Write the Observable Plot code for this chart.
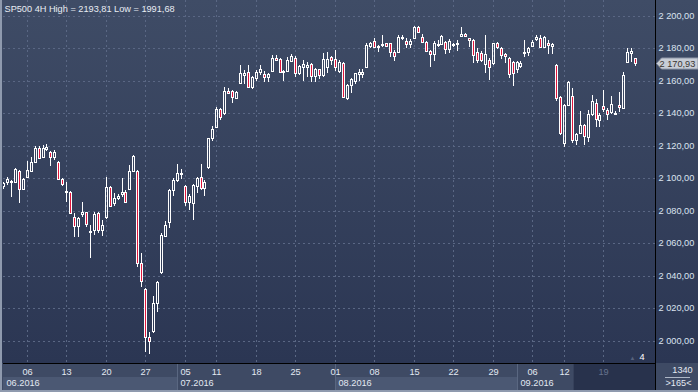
<!DOCTYPE html>
<html><head><meta charset="utf-8">
<script src="https://cdn.jsdelivr.net/npm/d3@7"></script>
<script src="https://cdn.jsdelivr.net/npm/@observablehq/plot@0.6"></script>
<style>
html,body{margin:0;padding:0;background:#2b3653;}
#chart{position:relative;width:698px;height:392px;overflow:hidden;
 background:linear-gradient(to bottom,#3f4c66 0px,#2b3653 363px,#3e4a64 363px,#3e4a64 392px);
 font-family:"Liberation Sans",Arial,sans-serif;}
#chart svg{display:block;}
#chart::before{content:"";position:absolute;left:0;top:0;width:2px;height:392px;background:#8f9aae;}
#chart::after{content:"";position:absolute;left:0;bottom:0;width:698px;height:2px;background:#8f9aae;}
</style></head><body><div id="chart"></div>
<script>
// ---- data: SP500 4H candles (2 bars per trading day, 01.06.2016 .. 23.09.2016) ----
const open = [
2095.0,2097.5,2098.6,2097.5,2104.3,2093.6,2101.0,2104.6,2110.2,2118.4,
2112.9,2117.8,2116.0,2113.0,2109.8,2099.3,2091.3,2091.7,2076.3,2070.8,
2077.8,2079.0,2067.6,2068.1,2078.4,2068.1,2076.0,2094.4,2085.0,2087.7,
2090.0,2091.5,2093.2,2104.6,2104.5,2047.6,2031.6,2002.0,2006.2,2023.0,
2042.5,2064.5,2073.3,2092.8,2099.0,2102.6,2095.2,2085.6,2084.6,2095.4,
2100.6,2093.8,2107.1,2124.6,2131.7,2142.4,2140.0,2153.9,2153.9,2149.6,
2158.4,2163.8,2165.2,2156.4,2161.5,2165.6,2164.1,2162.1,2166.2,2173.8,
2173.2,2165.2,2166.2,2172.2,2173.8,2164.6,2168.3,2168.3,2170.3,2162.9,
2167.1,2163.5,2168.6,2174.5,2173.2,2166.2,2170.8,2149.2,2157.4,2160.0,
2164.4,2164.4,2168.7,2181.4,2184.7,2181.5,2182.1,2183.0,2183.0,2177.5,
2177.9,2186.1,2184.5,2182.4,2186.1,2193.3,2186.8,2184.0,2178.3,2176.3,
2182.1,2182.6,2184.0,2179.4,2182.1,2182.6,2187.8,2188.8,2186.1,2185.1,
2178.0,2177.0,2170.5,2172.8,2170.8,2183.0,2180.0,2176.3,2173.8,2171.7,
2167.1,2169.0,2177.0,2177.5,2181.6,2185.5,2186.1,2181.0,2183.0,2181.6,
2169.7,2150.2,2121.5,2145.1,2150.6,2123.5,2128.0,2132.8,2125.6,2139.5,
2146.5,2135.9,2144.5,2142.0,2140.5,2139.6,2145.1,2143.4,2171.4,2177.3,
2173.8];
const high = [
2098.0,2101.0,2099.0,2106.5,2105.0,2100.0,2110.6,2113.3,2119.9,2119.9,
2120.5,2120.9,2116.5,2117.4,2110.5,2100.0,2097.9,2092.0,2078.4,2076.0,
2085.5,2079.5,2071.2,2079.4,2079.0,2074.3,2101.0,2095.0,2090.7,2090.0,
2100.0,2092.5,2108.2,2114.5,2105.0,2053.8,2032.5,2005.5,2027.7,2037.0,
2066.0,2073.9,2093.5,2100.0,2108.8,2105.7,2096.0,2090.5,2096.5,2101.0,
2109.0,2099.0,2125.0,2132.2,2144.0,2143.0,2156.4,2155.4,2154.5,2154.0,
2169.7,2166.6,2169.7,2163.0,2166.5,2169.5,2166.2,2165.0,2175.9,2175.9,
2174.0,2166.5,2174.8,2176.6,2175.0,2169.5,2172.8,2171.7,2171.0,2168.0,
2167.5,2176.9,2177.5,2175.5,2178.9,2172.5,2171.5,2158.0,2162.0,2165.0,
2167.0,2167.5,2183.5,2184.0,2186.1,2182.0,2188.2,2183.5,2183.5,2179.0,
2188.2,2188.2,2186.1,2185.5,2193.81,2193.5,2188.5,2184.5,2179.0,2184.5,
2185.0,2188.0,2184.5,2186.0,2183.5,2185.0,2193.4,2189.3,2186.3,2185.5,
2180.0,2178.5,2188.0,2174.0,2183.5,2183.6,2180.5,2177.0,2174.5,2172.3,
2172.2,2172.0,2185.0,2181.0,2185.1,2188.0,2188.0,2187.5,2185.0,2183.0,
2170.2,2150.6,2145.6,2160.0,2155.5,2128.0,2141.5,2133.5,2142.0,2151.3,
2149.0,2140.0,2154.3,2143.0,2150.5,2141.5,2153.3,2165.2,2180.4,2180.0,
2174.2];
const low = [
2093.5,2096.0,2088.6,2097.0,2085.0,2092.5,2100.5,2104.0,2109.8,2111.7,
2112.5,2117.0,2107.7,2111.2,2099.0,2095.5,2085.6,2078.0,2064.0,2064.0,
2076.3,2070.0,2050.7,2065.0,2066.0,2064.6,2075.0,2082.5,2082.9,2086.5,
2088.6,2084.6,2092.5,2104.0,2045.6,2032.9,1993.0,1991.68,2005.0,2017.9,
2041.0,2064.0,2069.6,2089.3,2097.9,2099.4,2083.0,2080.5,2074.0,2090.7,
2093.0,2089.3,2106.0,2123.0,2131.0,2136.0,2139.0,2151.7,2146.5,2149.0,
2158.0,2158.0,2155.5,2155.0,2160.0,2163.5,2159.4,2159.0,2165.2,2172.0,
2165.0,2160.0,2165.5,2171.5,2162.1,2163.5,2160.0,2162.1,2159.4,2159.4,
2161.0,2162.5,2165.0,2170.0,2166.0,2165.0,2149.5,2148.2,2152.3,2158.0,
2160.0,2162.0,2168.0,2180.0,2180.5,2178.0,2181.0,2180.5,2174.5,2172.4,
2177.0,2185.1,2180.0,2180.0,2185.5,2189.5,2183.0,2178.0,2168.7,2172.0,
2180.5,2182.0,2176.5,2177.0,2180.5,2178.6,2187.5,2187.0,2180.5,2170.8,
2170.8,2171.5,2164.6,2160.5,2169.5,2179.8,2173.2,2170.8,2161.5,2157.0,
2164.6,2168.0,2174.8,2175.0,2180.5,2184.5,2180.5,2180.5,2176.5,2176.5,
2147.7,2126.5,2119.1,2144.5,2122.0,2120.5,2127.0,2120.5,2122.5,2138.5,
2131.5,2131.7,2141.0,2136.0,2139.5,2139.0,2141.0,2142.8,2170.8,2171.8,
2169.3];
const close = [
2097.0,2099.3,2097.8,2105.5,2093.6,2099.3,2105.0,2109.8,2118.4,2112.3,
2118.4,2119.0,2113.0,2116.0,2099.3,2096.5,2092.3,2078.8,2070.8,2075.3,
2079.0,2071.6,2066.8,2077.8,2068.1,2071.2,2094.4,2083.1,2087.7,2089.0,
2091.5,2085.6,2104.6,2113.7,2047.6,2036.9,2002.1,2000.0,2023.0,2036.0,
2065.0,2071.2,2092.8,2099.0,2103.0,2103.4,2085.6,2089.0,2095.8,2100.0,
2093.8,2097.9,2124.6,2130.1,2142.4,2137.5,2153.9,2152.3,2149.8,2153.3,
2164.6,2164.8,2156.4,2162.5,2165.6,2167.0,2162.1,2164.1,2173.8,2172.8,
2165.6,2166.2,2172.8,2175.4,2164.6,2169.1,2170.1,2169.7,2162.9,2167.1,
2163.5,2173.2,2173.2,2172.5,2168.6,2171.7,2150.2,2157.4,2161.0,2164.6,
2165.6,2165.4,2182.0,2183.0,2181.0,2180.7,2182.9,2181.4,2177.5,2175.4,
2187.1,2187.1,2182.4,2184.5,2193.3,2190.2,2184.0,2178.5,2176.3,2183.0,
2182.9,2187.5,2179.4,2184.6,2182.9,2183.4,2188.6,2187.6,2185.1,2175.9,
2172.8,2172.8,2176.5,2168.6,2183.0,2180.6,2175.9,2175.3,2164.2,2164.5,
2171.7,2171.0,2177.9,2180.0,2184.0,2187.1,2181.0,2187.1,2182.0,2182.6,
2149.2,2128.0,2145.1,2159.4,2123.5,2127.2,2132.8,2126.0,2139.5,2147.7,
2136.3,2138.9,2142.4,2139.5,2146.0,2140.4,2143.7,2163.5,2177.9,2178.1,
2170.93];

const yTicks = [2000, 2020, 2040, 2060, 2080, 2100, 2120, 2140, 2160, 2180, 2200];
const tickBars = [6, 16, 26, 36, 46, 54, 64, 74, 84, 94, 104, 114, 124, 134, 142, 152];
const tickLabels = ["06","13","20","27","05","11","18","25","01","08","15","22","29","06","12","19"];
const monthLabels = ["06.2016", "07.2016", "08.2016", "09.2016"];
const monthFrom = [0, 44, 84, 130];
const monthTo = [44, 84, 130, 144.3];
const futureFrom = 144.3;
const symbolName = "SP500 4H";
const barCount = ["1340", ">165<"];
const pageCount = "4";

// ---- build ----
const loc = d3.formatLocale({decimal: ",", thousands: "\u00a0", grouping: [3], currency: ["", ""]});
const fmtY = loc.format(",.2f");
const fmtP = v => d3.format(".2f")(v).replace(".", ",");

const N = open.length;
const bars = d3.range(N).map(i => ({i, o: open[i], h: high[i], l: low[i], c: close[i]}));
const ticks = tickBars.map((b, k) => ({bar: b, label: tickLabels[k]}));
const months = monthLabels.map((m, k) => ({label: m, from: monthFrom[k], to: monthTo[k], k}));
const lastClose = close[N - 1];
const title = `${symbolName} High = ${fmtP(d3.max(high))} Low = ${fmtP(d3.min(low))}`;

const W = 698, ML = 3, MR = 43;
const X0 = 0, X1 = 165.06;
const pxBar = (X1 - X0) / (W - ML - MR); // 1px in bar units
const hw = pxBar;
const FONT = "Liberation Sans, Arial, sans-serif";
const grid = "#5a6784";
const crisp = "crispEdges";

const main = Plot.plot({
  width: W, height: 363,
  marginTop: 0, marginBottom: 0, marginLeft: ML, marginRight: MR,
  x: {domain: [X0, X1], round: true, axis: null},
  y: {domain: [1986.27, 2209.73], round: true, axis: "right", ticks: yTicks,
      tickSize: 0, tickPadding: 3, tickFormat: fmtY, label: null},
  style: {background: "transparent", color: "#dbe4f0", fontFamily: FONT, fontSize: "9.2px", overflow: "visible"},
  marks: [
    Plot.ruleY(yTicks, {stroke: grid, strokeDasharray: "2,3", shapeRendering: crisp}),
    Plot.ruleX(tickBars, {stroke: grid, strokeDasharray: "2,3", shapeRendering: crisp}),
    Plot.ruleX(bars, {x: "i", y1: "h", y2: d => Math.max(d.o, d.c), stroke: "#ffffff", clip: true, shapeRendering: crisp}),
    Plot.ruleX(bars, {x: "i", y1: d => Math.min(d.o, d.c), y2: "l", stroke: "#ffffff", clip: true, shapeRendering: crisp}),
    Plot.rect(bars, {x1: d => d.i - hw, x2: d => d.i + hw, y1: "o", y2: "c",
      fill: d => d.c < d.o ? "#e0163d" : "none", stroke: "#ffffff", clip: true, shapeRendering: crisp}),
    Plot.ruleX([X1], {stroke: "#000000", shapeRendering: crisp}),
    Plot.text([title], {frameAnchor: "top-left", dx: 1, dy: 5, lineAnchor: "top", textAnchor: "start",
      fill: "#e9edf4", fontSize: 9.2}),
    Plot.text(["\u25B2"], {frameAnchor: "bottom-right", dx: -20, dy: -4, fill: "#56627c", fontSize: 6}),
    Plot.text([pageCount], {frameAnchor: "bottom-right", dx: -11, dy: -4, fill: "#ffffff", fontSize: 9.2}),
    (index, scales, values, dimensions) => {
      const y = Math.round(scales.y(lastClose)) + 0.5;
      const x0 = dimensions.width - dimensions.marginRight + 1.5;
      const g = d3.create("svg:g");
      g.append("path")
        .attr("d", `M${x0},${y}L${x0 + 5},${y - 5.5}H${W}V${y + 5.5}H${x0 + 5}Z`)
        .attr("fill", "#c8cdd6").attr("stroke", "#8e97a8");
      g.append("text").attr("x", x0 + 3).attr("y", y).attr("dy", "0.34em")
        .attr("text-anchor", "start")
        .attr("fill", "#3a3530").attr("font-size", 9.2).attr("font-family", FONT)
        .text(fmtY(lastClose));
      return g.node();
    }
  ]
});

const strip = Plot.plot({
  width: W, height: 29,
  marginTop: 0, marginBottom: 0, marginLeft: ML, marginRight: MR,
  x: {domain: [X0, X1], round: true, axis: null},
  y: {domain: [0, 29], range: [0, 29], axis: null},
  style: {background: "transparent", color: "#e3e9f2", fontFamily: FONT, fontSize: "9.2px", overflow: "visible"},
  marks: [
    Plot.rect(months.filter(d => d.k % 2 === 0), {x1: "from", x2: "to", y1: 14, y2: 27, fill: "#4b5873", shapeRendering: crisp}),
    Plot.rect([futureFrom], {x1: d => d, x2: X1, y1: 0, y2: 27, fill: "#28324c", stroke: "#36415b", shapeRendering: crisp}),
    Plot.ruleX(monthFrom.slice(1), {y1: 0, y2: 27, stroke: "#5a6781", shapeRendering: crisp}),
    Plot.text(ticks, {x: "bar", y: 9, text: "label", fill: d => d.bar >= futureFrom ? "#66728d" : "#e3e9f2"}),
    Plot.text(months, {x: "from", y: 20, dx: 3, text: "label", textAnchor: "start", fill: "#e3e9f2"}),
    Plot.ruleY([0], {stroke: "#000000", shapeRendering: crisp}),
    Plot.ruleX([X1], {y1: 0, y2: 29, stroke: "#000000", shapeRendering: crisp}),
    Plot.text([barCount[0]], {x: X1 + 27 * pxBar, y: 7, textAnchor: "middle", fill: "#e3e9f2"}),
    Plot.ruleY([13.5], {x1: X1 + 10 * pxBar, x2: X1 + 35 * pxBar, stroke: "#aeb7c6", shapeRendering: crisp}),
    Plot.text([barCount[1]], {x: X1 + 23 * pxBar, y: 20, textAnchor: "middle", fill: "#e3e9f2"})
  ]
});

const root = document.getElementById("chart");
root.appendChild(main);
root.appendChild(strip);
</script></body></html>
